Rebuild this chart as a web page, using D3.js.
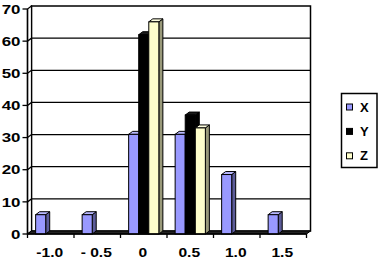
<!doctype html>
<html>
<head>
    <style>
        body { margin: 0; background: #fff; }
        text { font-family: "Liberation Sans", Arial, sans-serif; font-weight: bold; }
    </style>
    <script src="https://d3js.org/d3.v7.min.js"></script>
</head>
<body>
<svg width="385" height="264"></svg>
<script>
    // data
    var categories = ["-1.0", "- 0.5", "0", "0.5", "1.0", "1.5"];
    var seriesNames = ["X", "Y", "Z"];
    var xValues = [6, 6, 31, 31, 18.5, 6];
    var yValues = [0, 0, 62, 37, 0, 0];
    var zValues = [0, 0, 66, 33, 0, 0];
    var yTicks = [0, 10, 20, 30, 40, 50, 60, 70];

    var colors = { X: "#9999ff", Y: "#000000", Z: "#ffffcc" };
    var sides = { X: "#5c5c99", Y: "#000000", Z: "#99997a" };
    var tops = { X: "#b8b8ff", Y: "#1a1a1a", Z: "#ffffe0" };

    var svg = d3.select("svg");
    var x0 = 27.5, x1 = 306.5, dx = 4, dy = 3;

    var y = d3.scaleLinear().domain([0, 70]).range([234, 9]);
    var x = d3.scaleBand().domain(categories).range([x0, x1])
        .paddingInner(0.35).paddingOuter(0.175);
    var xs = d3.scaleBand().domain(seriesNames).range([0, x.bandwidth()]);

    var data = categories.map(function(c, i) {
        return { cat: c, X: xValues[i], Y: yValues[i], Z: zValues[i] };
    });

    var g = svg.append("g");

    // back wall
    g.append("rect")
        .attr("x", x0 + dx).attr("y", y(70) - dy)
        .attr("width", x1 - x0).attr("height", y(0) - y(70))
        .attr("fill", "#fff").attr("stroke", "#000").attr("stroke-width", 1.5);

    // side wall
    g.append("path")
        .attr("d", "M" + x0 + "," + y(0) + "L" + (x0 + dx) + "," + (y(0) - dy) +
            "L" + (x0 + dx) + "," + (y(70) - dy) + "L" + x0 + "," + y(70) + "Z")
        .attr("fill", "#fff").attr("stroke", "#000").attr("stroke-width", 1.2);

    // gridlines
    g.selectAll(".grid").data(yTicks.slice(1, -1)).enter().append("path")
        .attr("d", function(d) {
            return "M" + x0 + "," + y(d) + "L" + (x0 + dx) + "," + (y(d) - dy) +
                "L" + (x1 + dx) + "," + (y(d) - dy);
        })
        .attr("fill", "none").attr("stroke", "#000").attr("stroke-width", 1.3);

    // floor
    g.append("path")
        .attr("d", "M" + x0 + "," + y(0) + "L" + x1 + "," + y(0) +
            "L" + (x1 + dx) + "," + (y(0) - dy) + "L" + (x0 + dx) + "," + (y(0) - dy) + "Z")
        .attr("fill", "#222").attr("stroke", "#000").attr("stroke-width", 1);

    // bars
    var bars = [];
    data.forEach(function(d) {
        seriesNames.forEach(function(s) {
            if (d[s] > 0) bars.push({ cat: d.cat, s: s, v: d[s] });
        });
    });

    var bw = xs.bandwidth();
    var bg = g.selectAll(".bar").data(bars).enter().append("g").attr("class", "bar");
    bg.append("path")
        .attr("d", function(d) {
            var bx = x(d.cat) + xs(d.s) + bw, ty = y(d.v), by = y(0);
            return "M" + bx + "," + by + "L" + (bx + dx) + "," + (by - dy) +
                "L" + (bx + dx) + "," + (ty - dy) + "L" + bx + "," + ty + "Z";
        })
        .attr("fill", function(d) { return sides[d.s]; })
        .attr("stroke", "#000").attr("stroke-width", 1);
    bg.append("path")
        .attr("d", function(d) {
            var bx = x(d.cat) + xs(d.s), ty = y(d.v);
            return "M" + bx + "," + ty + "L" + (bx + dx) + "," + (ty - dy) +
                "L" + (bx + bw + dx) + "," + (ty - dy) + "L" + (bx + bw) + "," + ty + "Z";
        })
        .attr("fill", function(d) { return tops[d.s]; })
        .attr("stroke", "#000").attr("stroke-width", 1);
    bg.append("rect")
        .attr("x", function(d) { return x(d.cat) + xs(d.s); })
        .attr("y", function(d) { return y(d.v); })
        .attr("width", bw)
        .attr("height", function(d) { return y(0) - y(d.v); })
        .attr("fill", function(d) { return colors[d.s]; })
        .attr("stroke", "#000").attr("stroke-width", 1);

    // y axis
    g.append("line").attr("x1", x0).attr("x2", x0).attr("y1", y(70)).attr("y2", y(0))
        .attr("stroke", "#000").attr("stroke-width", 1.5);
    g.selectAll(".ytick").data(yTicks).enter().append("line")
        .attr("x1", x0 - 5).attr("x2", x0)
        .attr("y1", function(d) { return y(d); }).attr("y2", function(d) { return y(d); })
        .attr("stroke", "#000").attr("stroke-width", 1.3);
    g.selectAll(".ylab").data(yTicks).enter().append("text")
        .attr("transform", function(d) { return "translate(" + (x0 - 7) + "," + y(d) + ") scale(1.3,1)"; })
        .attr("dy", "0.36em").attr("text-anchor", "end")
        .attr("font-size", "13px").text(function(d) { return d; });

    // x axis
    g.append("line").attr("x1", x0).attr("x2", x1).attr("y1", y(0)).attr("y2", y(0))
        .attr("stroke", "#000").attr("stroke-width", 1.5);
    var step = x.step();
    g.selectAll(".xtick").data(d3.range(categories.length + 1)).enter().append("line")
        .attr("x1", function(i) { return x0 + i * step; })
        .attr("x2", function(i) { return x0 + i * step; })
        .attr("y1", y(0)).attr("y2", y(0) + 4)
        .attr("stroke", "#000").attr("stroke-width", 1.3);
    g.selectAll(".xlab").data(categories).enter().append("text")
        .attr("transform", function(d) {
            return "translate(" + (x(d) + x.bandwidth() / 2 - 1) + ",257) scale(1.2,1)";
        })
        .attr("text-anchor", "middle")
        .attr("font-size", "13px").text(function(d) { return d; });

    // legend
    var lg = svg.append("g");
    lg.append("rect").attr("x", 341.5).attr("y", 93.5).attr("width", 35.5).attr("height", 74)
        .attr("fill", "#fff").attr("stroke", "#000").attr("stroke-width", 1.5);
    var li = lg.selectAll(".li").data(seriesNames).enter().append("g")
        .attr("transform", function(d, i) { return "translate(346," + (107 + i * 24.4) + ")"; });
    li.append("rect").attr("x", 0.5).attr("y", -3).attr("width", 6).attr("height", 6)
        .attr("fill", function(d) { return colors[d]; })
        .attr("stroke", "#000").attr("stroke-width", 1);
    li.append("text").attr("x", 14).attr("y", 0).attr("dy", "0.36em")
        .attr("font-size", "13px").text(function(d) { return d; });
</script>
</body>
</html>
